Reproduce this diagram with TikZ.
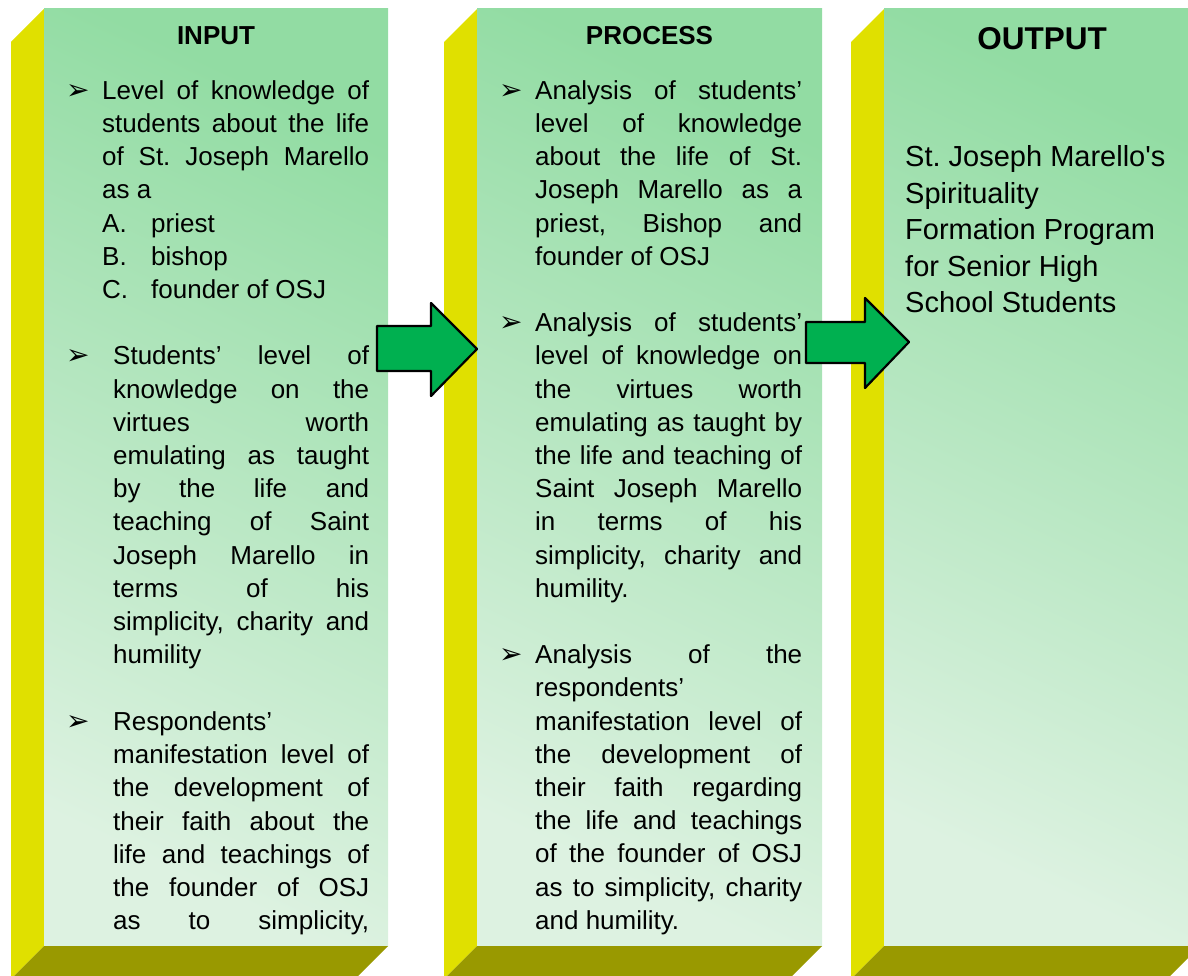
\documentclass[tikz,border=0pt]{standalone}
\usepackage{fontspec}
\setmainfont{Liberation Sans}
\newfontfamily\dingfont{DejaVu Sans}
\setlength{\parindent}{0pt}
\definecolor{sideyellow}{RGB}{224,224,0}
\definecolor{baseolive}{RGB}{153,153,0}
\definecolor{facetop}{RGB}{146,220,163}
\definecolor{facebottom}{RGB}{221,242,225}
\definecolor{arrowgreen}{RGB}{0,176,80}
% one justified line, spaces stretched to the column width \jw
\newcommand{\jw}{267pt}
\newcommand{\jl}[1]{\makebox[\jw][s]{#1}}

\begin{document}
\begin{tikzpicture}[x=1pt,y=-1pt,line join=round,
    sideface/.style={fill=sideyellow},
    baseface/.style={fill=baseolive},
    frontface/.style={top color=facetop,bottom color=facebottom,shading angle=-25},
    heading/.style={font=\bfseries\fontsize{26}{30}\selectfont,anchor=base,inner sep=0pt},
    body/.style={font=\fontsize{26}{33.2}\selectfont\frenchspacing,anchor=base west,inner sep=0pt,align=flush left},
    narrow/.style={execute at begin node={\renewcommand{\jw}{256pt}}},
    bullet/.style={font=\dingfont\fontsize{28}{30}\selectfont,anchor=base west,inner sep=0pt},
    blockarrow/.style={draw=black,line width=2.2pt,fill=arrowgreen}]
    \useasboundingbox (0,0) rectangle (1188,976);
    \clip (0,0) rectangle (1188,976);

    % the three boxes: side, front and bottom face
    \foreach \sx/\w/\name in {0/344/in,433/345/pro,840/316/out}{
      \begin{scope}[shift={(\sx,0)}]
        \coordinate (\name-nw) at (44,9);
        \coordinate (\name-se) at (44+\w,946);
        \fill[sideface](11,42)--(44,9)--(44,946)--(11,979)--cycle;
        \shade[frontface](\name-nw) rectangle (\name-se);
        \fill[baseface](44,946)--(44+\w,946)--(11+\w,979)--(11,979)--cycle;
      \end{scope}
    }

    % INPUT
    \node[heading] (in-head) at (216,45) {INPUT};
    \node[bullet] (in-b1) at (66,99.3) {➢};
    \node[body,text width=267pt] (in-t1) at (102,99.3) {%
      \jl{Level of knowledge of}\\
      \jl{students about the life}\\
      \jl{of St. Joseph Marello}\\
      as a\\
      \makebox[49pt][l]{A.}priest\\
      \makebox[49pt][l]{B.}bishop\\
      \makebox[49pt][l]{C.}founder of OSJ};
    \node[bullet] (in-b2) at (66,364.9) {➢};
    \node[body,narrow,text width=256pt] (in-t2) at (113,364.9) {%
      \jl{Students’ level of}\\
      \jl{knowledge on the}\\
      \jl{virtues worth}\\
      \jl{emulating as taught}\\
      \jl{by the life and}\\
      \jl{teaching of Saint}\\
      \jl{Joseph Marello in}\\
      \jl{terms of his}\\
      \jl{simplicity, charity and}\\
      humility};
    \node[bullet] (in-b3) at (66,730.5) {➢};
    \node[body,narrow,text width=256pt] (in-t3) at (113,730.5) {%
      Respondents’\\
      \jl{manifestation level of}\\
      \jl{the development of}\\
      \jl{their faith about the}\\
      \jl{life and teachings of}\\
      \jl{the founder of OSJ}\\
      \jl{as to simplicity,}};

    % PROCESS
    \node[heading] (pro-head) at (649.5,45) {PROCESS};
    \node[bullet] (pro-b1) at (499,99.3) {➢};
    \node[body,text width=267pt] (pro-t1) at (535,99.3) {%
      \jl{Analysis of students’}\\
      \jl{level of knowledge}\\
      \jl{about the life of St.}\\
      \jl{Joseph Marello as a}\\
      \jl{priest, Bishop and}\\
      founder of OSJ};
    \node[bullet] (pro-b2) at (499,331.7) {➢};
    \node[body,text width=267pt] (pro-t2) at (535,331.7) {%
      \jl{Analysis of students’}\\
      \jl{level of knowledge on}\\
      \jl{the virtues worth}\\
      \jl{emulating as taught by}\\
      \jl{the life and teaching of}\\
      \jl{Saint Joseph Marello}\\
      \jl{in terms of his}\\
      \jl{simplicity, charity and}\\
      humility.};
    \node[bullet] (pro-b3) at (499,663.7) {➢};
    \node[body,text width=267pt] (pro-t3) at (535,663.7) {%
      \jl{Analysis of the}\\
      respondents’\\
      \jl{manifestation level of}\\
      \jl{the development of}\\
      \jl{their faith regarding}\\
      \jl{the life and teachings}\\
      \jl{of the founder of OSJ}\\
      \jl{as to simplicity, charity}\\
      and humility.};

    % OUTPUT
    \node[heading,font=\bfseries\fontsize{31.5}{34}\selectfont] (out-head) at (1042,50) {OUTPUT};
    \node[body,text width=280pt,font=\fontsize{29}{36.5}\selectfont\frenchspacing] (out-t1) at (905,166.7) {%
      St. Joseph Marello\textquotesingle s\\
      Spirituality\\
      Formation Program\\
      for Senior High\\
      School Students};

    % block arrows between the boxes
    \draw[blockarrow](377,326)--(431,326)--(431,303)--(477,349)--(431,396)--(431,371)--(377,371)--cycle;
    \draw[blockarrow](806,322)--(865,322)--(865,298)--(909,342)--(865,388)--(865,363)--(806,363)--cycle;
  \end{tikzpicture}
\end{document}
